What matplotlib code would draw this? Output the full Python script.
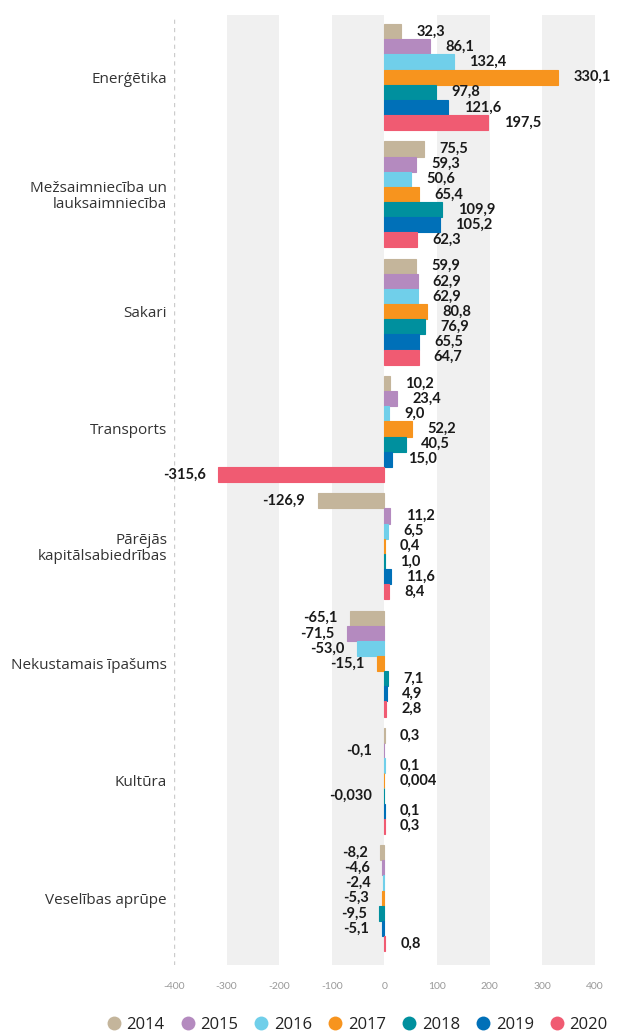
"""
Grouped horizontal bar chart: values by sector, 2014-2020.
Saves out.png
"""

import matplotlib
matplotlib.use("Agg")
import matplotlib.pyplot as plt
from matplotlib.lines import Line2D

CATEGORIES = [
    "Enerģētika",
    "Mežsaimniecība un\nlauksaimniecība",
    "Sakari",
    "Transports",
    "Pārējās\nkapitālsabiedrības",
    "Nekustamais īpašums",
    "Kultūra",
    "Veselības aprūpe",
]
YEARS = ["2014", "2015", "2016", "2017", "2018", "2019", "2020"]

# one list per year, in category order
V2014 = [32.3, 75.5, 59.9, 10.2, -126.9, -65.1, 0.3, -8.2]
V2015 = [86.1, 59.3, 62.9, 23.4, 11.2, -71.5, -0.1, -4.6]
V2016 = [132.4, 50.6, 62.9, 9.0, 6.5, -53.0, 0.1, -2.4]
V2017 = [330.1, 65.4, 80.8, 52.2, 0.4, -15.1, 0.004, -5.3]
V2018 = [97.8, 109.9, 76.9, 40.5, 1.0, 7.1, -0.030, -9.5]
V2019 = [121.6, 105.2, 65.5, 15.0, 11.6, 4.9, 0.1, -5.1]
V2020 = [197.5, 62.3, 64.7, -315.6, 8.4, 2.8, 0.3, 0.8]
SERIES = [V2014, V2015, V2016, V2017, V2018, V2019, V2020]

COLORS = ["#c4b59b", "#b48abf", "#70cfea", "#f7941e", "#00909e", "#0070b8", "#f05b72"]

XTICKS = [-400, -300, -200, -100, 0, 100, 200, 300, 400]

FONT = ["Lato", "DejaVu Sans"]
LABEL_FONT = ["Open Sans", "DejaVu Sans"]


def fmt(v):
    s = f"{v:.3f}" if 0 < abs(v) < 0.05 else f"{v:.1f}"
    return s.replace(".", ",")


def main():
    plt.rcParams["font.family"] = FONT
    fig = plt.figure(figsize=(6.2, 10.35), dpi=100)
    ax = fig.add_axes([0.2806, 0.0676, 0.679, 0.918])

    # alternating grey bands
    for lo in (-300, -100, 100, 300):
        ax.axvspan(lo, lo + 100, color="#f0f0f0", lw=0, zorder=0)
    ax.axvline(-400, color="#cccccc", lw=1, ls=(0, (3, 3)), zorder=1)

    bh = 0.129
    n = len(YEARS)
    for i, (vals, col) in enumerate(zip(SERIES, COLORS)):
        ys = [c + (i - (n - 1) / 2) * bh for c in range(len(CATEGORIES))]
        ax.barh(ys, vals, height=bh, color=col, edgecolor=col, lw=0.8, zorder=2)
        for y, v in zip(ys, vals):
            if v >= 0:
                ax.annotate(fmt(v), (v, y), xytext=(11, 0), textcoords="offset points",
                            ha="left", va="center", fontsize=10.5, fontweight="bold",
                            color="#1a1a1a")
            else:
                ax.annotate(fmt(v), (v, y), xytext=(-9, 0), textcoords="offset points",
                            ha="right", va="center", fontsize=10.5, fontweight="bold",
                            color="#1a1a1a")

    ax.set_xlim(-400, 400)
    ax.set_ylim(len(CATEGORIES) - 0.43, -0.53)
    ax.set_xticks(XTICKS)
    ax.set_xticklabels([str(t) for t in XTICKS])
    ax.set_yticks(range(len(CATEGORIES)))
    ax.set_yticklabels(CATEGORIES, family=LABEL_FONT, linespacing=1.1)
    ax.tick_params(axis="x", length=0, pad=12, labelsize=7.5, labelcolor="#999999")
    ax.tick_params(axis="y", length=0, pad=5, labelsize=11, labelcolor="#333333")
    for s in ax.spines.values():
        s.set_visible(False)

    handles = [Line2D([], [], marker="o", ls="", markersize=10, color=c,
                      markeredgewidth=0) for c in COLORS]
    leg = fig.legend(handles, YEARS, loc="center", bbox_to_anchor=(0.575, 0.0095), ncol=7,
                     frameon=False, handletextpad=0.25, columnspacing=0.9,
                     handlelength=1.0, borderaxespad=0, prop={"family": LABEL_FONT, "size": 12})
    for t in leg.get_texts():
        t.set_color("#222222")

    fig.savefig("out.png", dpi=100)
    plt.close(fig)


if __name__ == "__main__":
    main()
